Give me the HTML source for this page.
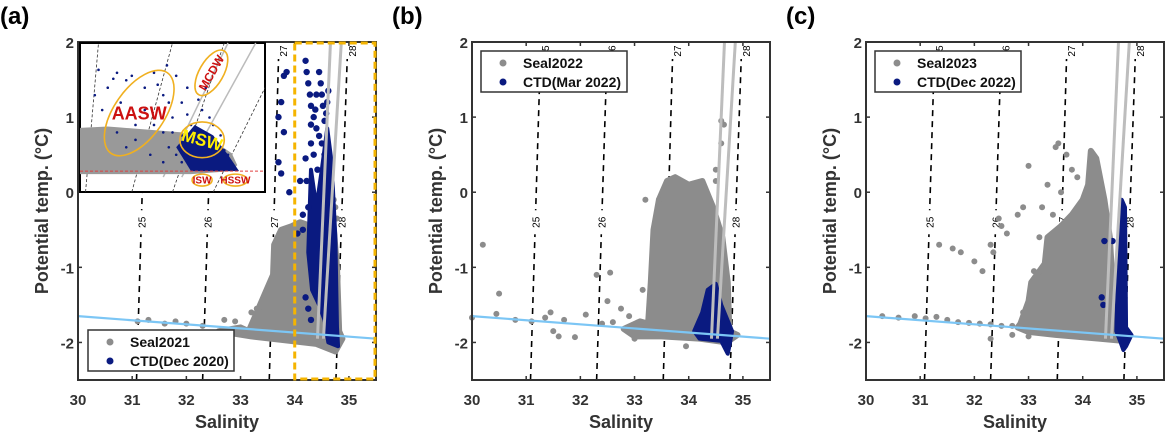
<!DOCTYPE html>
<html><head><meta charset="utf-8">
<style>
html,body{margin:0;padding:0;background:#fff;}
svg{display:block;font-family:"Liberation Sans",Arial,sans-serif;}
</style></head>
<body>
<svg id="fig" width="1165" height="433" viewBox="0 0 1165 433" xmlns="http://www.w3.org/2000/svg"></svg>
<script>
// ---- data ----
const xTicks = [30,31,32,33,34,35];
const yTicks = [2,1,0,-1,-2];
const panelLabels = ["(a)","(b)","(c)"];
const sealNames = ["Seal2021","Seal2022","Seal2023"];
const ctdNames = ["CTD(Dec 2020)","CTD(Mar 2022)","CTD(Dec 2022)"];
const sigmaLabels = ["25","26","27","28"];
const sigmaBottomS = [31.08,32.3,33.53,34.76];
const sigmaTopS = [31.27,32.5,33.71,34.98];
const mixLineBottomS = [34.42,34.53];
const mixLineTopS = [34.66,34.86];
const freezeS = [30,35.5];
const freezeT = [-1.65,-1.95];

const grayCloudA = [[33.15,-1.85],[33.3,-1.6],[33.45,-1.35],[33.6,-1.1],[33.62,-0.7],[33.75,-0.5],[33.95,-0.45],[34.1,-0.4],[34.3,-0.45],[34.5,-0.5],[34.7,-0.3],[34.78,-1.0],[34.82,-1.85],[34.88,-1.95],[34.75,-2.12],[34.4,-2.02],[33.8,-1.97],[33.2,-1.92],[32.6,-1.85],[33.0,-1.8]];
const grayDotsA = [[31.1,-1.72],[31.3,-1.7],[31.6,-1.75],[31.8,-1.72],[32.0,-1.75],[32.3,-1.78],[32.7,-1.7],[32.9,-1.72],[33.2,-1.6],[33.3,-1.55],[34.0,-1.95],[34.75,-0.2],[34.78,-0.35],[34.72,-0.1]];
const blueCloudA = [[34.3,0.3],[34.4,-0.2],[34.5,0.3],[34.6,0.85],[34.68,0.4],[34.75,-0.6],[34.78,-1.8],[34.8,-2.05],[34.62,-2.0],[34.55,-1.7],[34.45,-1.5],[34.32,-1.3],[34.25,-0.8]];
const blueDotsA = [[33.7,1.0],[33.75,1.2],[33.8,1.55],[33.85,1.6],[33.8,0.8],[33.7,0.4],[33.75,0.25],[33.9,0.0],[34.2,1.75],[34.22,1.6],[34.25,1.45],[34.28,1.3],[34.3,1.15],[34.35,1.0],[34.45,1.6],[34.48,1.45],[34.5,1.3],[34.52,1.15],[34.4,0.85],[34.3,0.65],[34.45,0.75],[34.55,0.95],[34.58,1.05],[34.6,1.2],[34.62,1.35],[34.55,0.5],[34.35,0.5],[34.2,0.45],[34.4,1.3],[34.3,0.9],[34.22,0.15],[34.1,0.15],[34.25,-0.2],[34.15,-0.5],[34.05,-0.55],[34.2,-1.4],[34.25,-1.55],[34.3,-1.7],[34.15,-0.3],[34.38,1.1],[34.42,0.3],[34.5,0.65]];

const grayCloudB = [[33.25,-1.75],[33.3,-1.2],[33.35,-0.5],[33.45,-0.1],[33.6,0.15],[33.75,0.2],[34.0,0.1],[34.25,0.15],[34.45,-0.2],[34.62,-0.6],[34.72,-1.2],[34.75,-1.85],[34.9,-1.9],[34.7,-2.0],[34.2,-1.95],[33.5,-1.92],[33.0,-1.92],[32.8,-1.82],[33.1,-1.72]];
const grayDotsB = [[30.0,-1.67],[30.2,-0.7],[30.5,-1.35],[30.45,-1.62],[30.8,-1.7],[31.1,-1.72],[31.35,-1.67],[31.45,-1.6],[31.5,-1.85],[31.6,-1.92],[31.7,-1.7],[31.9,-1.93],[32.1,-1.63],[32.3,-1.1],[32.4,-1.75],[32.5,-1.45],[32.55,-1.07],[32.6,-1.73],[32.75,-1.55],[32.9,-1.65],[33.0,-1.95],[33.2,-0.1],[33.45,-0.1],[34.6,0.95],[34.65,0.9],[34.6,0.65],[34.5,0.3],[34.5,0.15],[33.95,-2.05],[33.15,-1.3]];
const blueCloudB = [[34.1,-1.85],[34.25,-1.6],[34.35,-1.3],[34.5,-1.22],[34.6,-1.5],[34.8,-1.85],[34.75,-2.05],[34.72,-2.15],[34.6,-1.98],[34.2,-1.95]];

const grayCloudC = [[32.85,-1.75],[33.0,-1.45],[33.05,-1.2],[33.3,-0.95],[33.35,-0.6],[33.6,-0.45],[33.8,-0.3],[34.0,-0.1],[34.1,0.1],[34.15,0.55],[34.25,0.45],[34.4,-0.1],[34.5,-0.6],[34.55,-1.2],[34.6,-1.85],[34.75,-1.98],[34.3,-1.95],[33.5,-1.9],[33.0,-1.86],[32.8,-1.8]];
const grayDotsC = [[30.3,-1.65],[30.6,-1.67],[30.9,-1.65],[31.1,-1.68],[31.3,-1.66],[31.5,-1.7],[31.7,-1.73],[31.9,-1.74],[32.1,-1.75],[32.3,-1.76],[32.5,-1.78],[32.7,-1.78],[31.35,-0.7],[31.6,-0.75],[31.75,-0.8],[32.0,-0.92],[32.15,-1.05],[32.3,-0.7],[32.35,-0.8],[32.3,-1.95],[32.45,-0.35],[32.5,-0.45],[32.6,-0.55],[32.8,-0.3],[32.9,-0.2],[33.0,0.35],[33.5,0.6],[33.55,0.65],[33.7,0.5],[33.8,0.3],[32.7,-1.9],[33.0,-1.92],[32.9,-1.6],[33.2,-0.6],[33.35,0.1],[33.45,-0.3],[33.6,0.0],[33.1,-1.05],[33.25,-0.2],[33.9,0.2]];
const blueCloudC = [[34.62,-1.85],[34.67,-0.6],[34.72,-0.1],[34.78,-0.2],[34.8,-1.8],[34.9,-1.9],[34.8,-2.05],[34.75,-2.1],[34.7,-2.0]];
const blueDotsC = [[34.4,-0.65],[34.55,-0.65],[34.35,-1.4],[34.38,-1.5]];

const grayClouds = [grayCloudA, grayCloudB, grayCloudC];
const grayDots = [grayDotsA, grayDotsB, grayDotsC];
const blueClouds = [blueCloudA, blueCloudB, blueCloudC];
const blueDots = [blueDotsA, [], blueDotsC];

// ---- layout ----
const NS = "http://www.w3.org/2000/svg";
const svg = document.getElementById("fig");
const panelX0 = [78,472,866];
const W = 298, TOP = 42, H = 338;
const GRAY = "#8c8c8c", NAVY = "#0a1a80";
function mk(tag, attrs, parent){const e=document.createElementNS(NS,tag);for(const k in attrs)e.setAttribute(k,attrs[k]);(parent||svg).appendChild(e);return e;}

for(let p=0;p<3;p++){
  const x0 = panelX0[p];
  const sx = s => x0 + (s-30)/5.5*W;
  const sy = t => TOP + (2-t)/4.5*H;
  const g = mk("g",{});
  
  

  const lab = mk("text",{x:x0-78+(p==0?0:-2),y:24,"font-size":24,"font-weight":"bold",fill:"#000"},g);
  lab.textContent = panelLabels[p];
  
  

  for(let i=0;i<sigmaLabels.length;i++){
    const l = mk("line",{x1:sx(sigmaBottomS[i]),y1:sy(-2.5),x2:sx(sigmaTopS[i]),y2:sy(2),stroke:"#000","stroke-width":1.6,"stroke-dasharray":"6,5"},g);
    
    
    const fm = (2-(-0.4))/4.5;
    const xm = sx(sigmaTopS[i]) + (sx(sigmaBottomS[i])-sx(sigmaTopS[i]))*fm;
    const ym = sy(-0.4);
    mk("rect",{x:xm-6,y:ym-12,width:12,height:24,fill:"#fff"},g);
    const t = mk("text",{x:xm+4,y:ym,"font-size":10,"text-anchor":"middle",fill:"#000",transform:`rotate(-90 ${xm+4} ${ym})`},g);
    t.textContent = sigmaLabels[i];
    
    
    const xt = sx(sigmaTopS[i]);
    mk("rect",{x:xt-5,y:TOP+1,width:11,height:16,fill:"#fff"},g);
    const t2 = mk("text",{x:xt+8,y:TOP+9,"font-size":10,"text-anchor":"middle",fill:"#000",transform:`rotate(-90 ${xt+8} ${TOP+9})`},g);
    t2.textContent = sigmaLabels[i];
    
    
  }
  const gc = mk("polygon",{points:grayClouds[p].map(d=>sx(d[0])+","+sy(d[1])).join(" "),fill:GRAY,stroke:GRAY,"stroke-width":6,"stroke-linejoin":"round"},g);
  
  
  for(const d of grayDots[p]){
    const c = mk("circle",{cx:sx(d[0]),cy:sy(d[1]),r:3,fill:GRAY},g);
    
    
  }
  const bc = mk("polygon",{points:blueClouds[p].map(d=>sx(d[0])+","+sy(d[1])).join(" "),fill:NAVY,stroke:NAVY,"stroke-width":4,"stroke-linejoin":"round"},g);
  
  
  for(const d of blueDots[p]){
    const c = mk("circle",{cx:sx(d[0]),cy:sy(d[1]),r:3.2,fill:NAVY},g);
    
    
  }
  for(let i=0;i<2;i++){
    const l = mk("line",{x1:sx(mixLineBottomS[i]),y1:sy(-1.95),x2:sx(mixLineTopS[i]),y2:sy(2),stroke:"#bdbdbd","stroke-width":3},g);
    
    
  }
  const fz = mk("line",{x1:sx(freezeS[0]),y1:sy(freezeT[0]),x2:sx(freezeS[1]),y2:sy(freezeT[1]),stroke:"#7cc6f5","stroke-width":2.2},g);
  
  

  const box = mk("rect",{x:x0,y:TOP,width:W,height:H,fill:"none",stroke:"#333","stroke-width":2},g);
  
  
  for(const v of xTicks){
    const x = sx(v);
    mk("line",{x1:x,y1:TOP+H,x2:x,y2:TOP+H-4,stroke:"#333","stroke-width":1.5},g);
    mk("line",{x1:x,y1:TOP,x2:x,y2:TOP+4,stroke:"#333","stroke-width":1.5},g);
    const t = mk("text",{x:x,y:TOP+H+25,"font-size":15,"font-weight":"bold","text-anchor":"middle",fill:"#333"},g);
    t.textContent = v;
    
    
  }
  for(const v of yTicks){
    const y = sy(v);
    mk("line",{x1:x0,y1:y,x2:x0+4,y2:y,stroke:"#333","stroke-width":1.5},g);
    mk("line",{x1:x0+W,y1:y,x2:x0+W-4,y2:y,stroke:"#333","stroke-width":1.5},g);
    const t = mk("text",{x:x0-4,y:y+6,"font-size":15,"font-weight":"bold","text-anchor":"end",fill:"#333"},g);
    t.textContent = v;
    
    
  }
  const xl = mk("text",{x:x0+W/2,y:428,"font-size":18,"font-weight":"bold","text-anchor":"middle",fill:"#333"},g);
  xl.textContent = "Salinity";
  
  
  const yx = x0-30, yy = TOP+H/2;
  const yl = mk("text",{x:yx,y:yy,"font-size":18,"font-weight":"bold","text-anchor":"middle",fill:"#333",transform:`rotate(-90 ${yx} ${yy})`},g);
  yl.textContent = "Potential temp. (°C)";
  
  

  const lx = p==0 ? 88 : x0+9, ly = p==0 ? 330 : 51;
  const lg = mk("g",{},g);
  
  
  mk("rect",{x:lx,y:ly,width:146,height:41,fill:"#fff",stroke:"#333","stroke-width":1.5},lg);
  mk("circle",{cx:lx+22,cy:ly+12,r:3.5,fill:GRAY},lg);
  mk("circle",{cx:lx+22,cy:ly+31,r:3.5,fill:NAVY},lg);
  const e1 = mk("text",{x:lx+42,y:ly+17,"font-size":14,"font-weight":"bold",fill:"#111"},lg);
  e1.textContent = sealNames[p];
  
  
  const e2 = mk("text",{x:lx+42,y:ly+36,"font-size":14,"font-weight":"bold",fill:"#111"},lg);
  e2.textContent = ctdNames[p];
  
  

  if(p==0){
    const hr = mk("rect",{x:sx(34),y:TOP+1,width:W-(sx(34)-x0)-1,height:H-2,fill:"none",stroke:"#f5b400","stroke-width":3,"stroke-dasharray":"7,4"},g);
    
    
  }
}

// ---- inset (panel a) ----
const insetGrayBand = [[0,57],[15,56],[35,58],[55,60],[65,63],[75,68],[82,74],[85,82],[82,86],[60,88],[0,88]];
const insetEllipses = [[32,47,13.5,33,35,"AASW"],[71,20,6.5,17,30,"MCDW"],[66,65,12,12,0,"MSW"],[66,92,5.4,4,0,"ISW"],[84,92,6.5,4,0,"HSSW"]];
const insetBlueDots = [[10,18],[20,20],[18,24],[25,25],[28,22],[35,30],[40,20],[42,28],[45,35],[48,40],[55,40],[58,48],[60,55],[65,60],[70,65],[75,70],[78,72],[50,60],[48,70],[52,75],[66,45],[58,30],[70,50],[35,45],[30,55],[20,60],[15,30],[62,65],[68,72],[72,78],[55,62],[60,70],[40,55],[45,60],[50,50],[30,65],[25,70],[38,75],[45,80],[55,80],[64,38],[68,30],[72,55],[76,62],[80,75],[12,45],[8,35],[22,40],[52,22],[47,15]];
(function(){
  const ix=80, iy=43, iw=185, ih=149;
  const g = mk("g",{});
  
  
  mk("rect",{x:ix,y:iy,width:iw,height:ih,fill:"#fff",stroke:"#000","stroke-width":2},g);
  const ux = v => ix + v/100*iw, uy = v => iy + v/100*ih;
  for(const a of [[3,100,10,0],[28,100,50,0],[50,100,78,0],[72,100,100,30]]){
    mk("line",{x1:ux(a[0]),y1:uy(a[1]),x2:ux(a[2]),y2:uy(a[3]),stroke:"#333","stroke-width":0.8,"stroke-dasharray":"3,2"},g);
  }
  mk("line",{x1:ux(45),y1:uy(90),x2:ux(80),y2:uy(0),stroke:"#bbb","stroke-width":1.5},g);
  mk("line",{x1:ux(55),y1:uy(90),x2:ux(95),y2:uy(0),stroke:"#bbb","stroke-width":1.5},g);
  mk("polygon",{points:insetGrayBand.map(d=>ux(d[0])+","+uy(d[1])).join(" "),fill:"#999"},g);
  for(const d of insetBlueDots) mk("circle",{cx:ux(d[0]),cy:uy(d[1]),r:1.3,fill:NAVY},g);
  mk("polygon",{points:[[52,70],[62,55],[72,62],[80,75],[86,86],[60,86]].map(d=>ux(d[0])+","+uy(d[1])).join(" "),fill:NAVY},g);
  mk("line",{x1:ix,y1:uy(86),x2:ix+iw,y2:uy(86),stroke:"#e04040","stroke-width":1,"stroke-dasharray":"3,2"},g);
  for(const e of insetEllipses){
    const el = mk("ellipse",{cx:ux(e[0]),cy:uy(e[1]),rx:e[2]/100*iw,ry:e[3]/100*ih,fill:"none",stroke:"#f0b020","stroke-width":1.6,transform:`rotate(${e[4]} ${ux(e[0])} ${uy(e[1])})`},g);
    
    
    const big = e[5]=="AASW"?18:(e[5]=="MSW"?17:(e[5]=="MCDW"?12:10));
    const col = e[5]=="MSW" ? "#ffee00" : "#cc1010";
    const rot = e[5]=="MCDW"?-60:(e[5]=="MSW"?15:0);
    const t = mk("text",{x:ux(e[0]),y:uy(e[1])+big*0.35,"font-size":big,"font-weight":"bold","text-anchor":"middle",fill:col,transform:`rotate(${rot} ${ux(e[0])} ${uy(e[1])})`},g);
    t.textContent = e[5];
    
    
  }
})();
</script>
</body></html>
